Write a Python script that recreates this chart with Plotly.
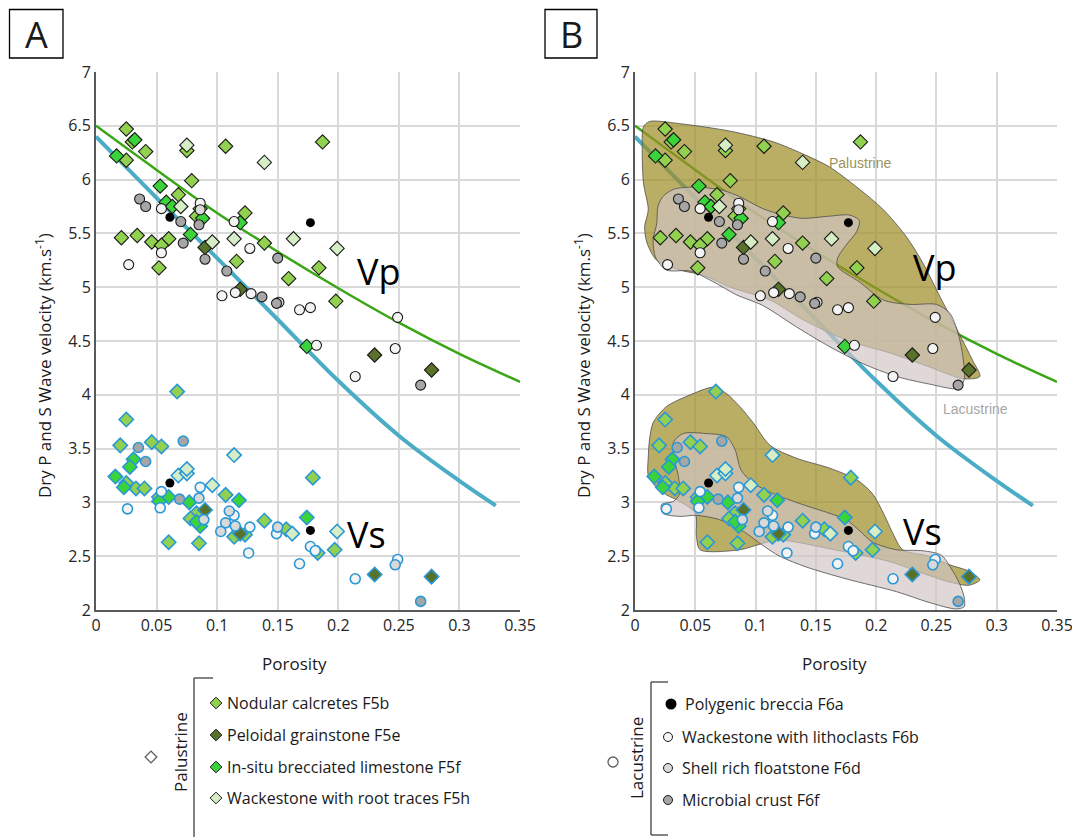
import plotly.graph_objects as go

W, H = 1080, 837
OFF = 8  # browser body margin: shift every pixel position by this amount

# ---------------- axis ticks ----------------
x_ticks = [0, 0.05, 0.1, 0.15, 0.2, 0.25, 0.3, 0.35]
x_ticklabels = ["0", "0.05", "0.1", "0.15", "0.2", "0.25", "0.3", "0.35"]
y_ticks = [2, 2.5, 3, 3.5, 4, 4.5, 5, 5.5, 6, 6.5, 7]
y_ticklabels = ["2", "2.5", "3", "3.5", "4", "4.5", "5", "5.5", "6", "6.5", "7"]

# ---------------- trend lines ----------------
green_phi = [0.0, 0.05, 0.1, 0.15, 0.2, 0.25, 0.3, 0.35]
green_v = [6.50, 6.09, 5.69, 5.33, 4.99, 4.67, 4.38, 4.12]
blue_phi = [0.0, 0.05, 0.1, 0.15, 0.2, 0.25, 0.3, 0.33]
blue_v = [6.40, 5.83, 5.27, 4.70, 4.13, 3.62, 3.20, 2.97]

# ---------------- Vp data ----------------
f5b_vp_phi = [0.025, 0.030, 0.025, 0.041, 0.075, 0.107, 0.079, 0.068, 0.086, 0.083, 0.123, 0.021,
              0.034, 0.046, 0.060, 0.054, 0.139, 0.052, 0.116, 0.187, 0.184, 0.159, 0.198]
f5b_vp_v = [6.47, 6.35, 6.18, 6.26, 6.27, 6.31, 5.99, 5.86, 5.73, 5.66, 5.69, 5.46,
            5.48, 5.42, 5.45, 5.39, 5.41, 5.18, 5.24, 6.35, 5.18, 5.08, 4.87]
f5e_vp_phi = [0.090, 0.119, 0.230, 0.277]
f5e_vp_v = [5.37, 4.98, 4.37, 4.23]
f5f_vp_phi = [0.032, 0.017, 0.053, 0.058, 0.063, 0.088, 0.119, 0.078, 0.174]
f5f_vp_v = [6.37, 6.22, 5.94, 5.79, 5.75, 5.64, 5.60, 5.49, 4.45]
f5h_vp_phi = [0.075, 0.139, 0.070, 0.096, 0.114, 0.163, 0.199]
f5h_vp_v = [6.32, 6.16, 5.75, 5.42, 5.45, 5.45, 5.36]
f6a_vp_phi = [0.061, 0.177]
f6a_vp_v = [5.65, 5.60]
f6b_vp_phi = [0.054, 0.086, 0.114, 0.054, 0.027, 0.127, 0.104, 0.115, 0.128, 0.168, 0.177,
              0.249, 0.182, 0.247, 0.214]
f6b_vp_v = [5.73, 5.78, 5.61, 5.32, 5.21, 5.36, 4.92, 4.95, 4.94, 4.79, 4.81,
            4.72, 4.46, 4.43, 4.17]
f6d_vp_phi = [0.086, 0.151]
f6d_vp_v = [5.72, 4.86]
f6f_vp_phi = [0.036, 0.041, 0.070, 0.085, 0.072, 0.090, 0.108, 0.137, 0.150, 0.149, 0.268]
f6f_vp_v = [5.82, 5.75, 5.61, 5.58, 5.41, 5.26, 5.15, 4.91, 5.27, 4.85, 4.09]

# ---------------- Vs data ----------------
f5b_vs_phi = [0.067, 0.025, 0.020, 0.046, 0.054, 0.025, 0.033, 0.040, 0.052, 0.107, 0.083,
              0.078, 0.114, 0.123, 0.139, 0.157, 0.060, 0.085, 0.179, 0.183, 0.197]
f5b_vs_v = [4.03, 3.77, 3.53, 3.56, 3.52, 3.18, 3.13, 3.13, 3.05, 3.07, 2.90,
            2.85, 2.68, 2.70, 2.83, 2.75, 2.63, 2.62, 3.23, 2.53, 2.56]
f5e_vs_phi = [0.090, 0.119, 0.230, 0.277]
f5e_vs_v = [2.93, 2.71, 2.33, 2.31]
f5f_vs_phi = [0.031, 0.028, 0.016, 0.023, 0.060, 0.052, 0.077, 0.118, 0.086, 0.083, 0.174]
f5f_vs_v = [3.40, 3.33, 3.24, 3.14, 3.05, 3.01, 3.00, 3.02, 2.78, 2.82, 2.86]
f5h_vs_phi = [0.068, 0.075, 0.075, 0.114, 0.096, 0.162, 0.199]
f5h_vs_v = [3.25, 3.27, 3.31, 3.44, 3.16, 2.71, 2.73]
f6a_vs_phi = [0.061, 0.177]
f6a_vs_v = [3.18, 2.74]
f6b_vs_phi = [0.054, 0.053, 0.026, 0.086, 0.114, 0.127, 0.126, 0.149, 0.177, 0.181, 0.168,
              0.214, 0.249]
f6b_vs_v = [3.10, 2.95, 2.94, 3.14, 2.88, 2.77, 2.53, 2.71, 2.59, 2.55, 2.43,
            2.29, 2.47]
f6d_vs_phi = [0.085, 0.089, 0.110, 0.107, 0.115, 0.103, 0.150, 0.247]
f6d_vs_v = [3.04, 2.84, 2.92, 2.81, 2.78, 2.73, 2.77, 2.42]
f6f_vs_phi = [0.035, 0.041, 0.072, 0.069, 0.268]
f6f_vs_v = [3.51, 3.38, 3.57, 3.03, 2.08]

# ---------------- envelopes (panel B) ----------------
pal_vp_phi = [0.007, 0.012, 0.037, 0.079, 0.115, 0.139, 0.161, 0.184, 0.206, 0.225, 0.239, 0.253,
              0.266, 0.280, 0.286, 0.272, 0.244, 0.211, 0.175, 0.139, 0.112, 0.079, 0.057, 0.037,
              0.018, 0.010, 0.008, 0.011, 0.007, 0.006]
pal_vp_v = [6.49, 6.54, 6.52, 6.45, 6.35, 6.24, 6.12, 5.93, 5.72, 5.47, 5.22, 4.91,
            4.63, 4.32, 4.17, 4.15, 4.26, 4.39, 4.51, 4.70, 4.88, 5.00, 5.11, 5.16,
            5.25, 5.41, 5.56, 5.72, 5.97, 6.28]
lac_vp_phi = [0.023, 0.032, 0.051, 0.073, 0.087, 0.106, 0.123, 0.139, 0.161, 0.178, 0.186, 0.184,
              0.175, 0.168, 0.168, 0.186, 0.206, 0.228, 0.250, 0.261, 0.268, 0.272, 0.273, 0.268,
              0.244, 0.217, 0.189, 0.161, 0.134, 0.106, 0.084, 0.065, 0.046, 0.026, 0.017, 0.015,
              0.018, 0.019]
lac_vp_v = [5.84, 5.91, 5.93, 5.90, 5.84, 5.73, 5.67, 5.64, 5.66, 5.67, 5.62, 5.52,
            5.39, 5.27, 5.19, 5.05, 4.88, 4.84, 4.84, 4.76, 4.57, 4.35, 4.14, 4.06,
            4.10, 4.17, 4.29, 4.45, 4.63, 4.83, 4.93, 5.05, 5.15, 5.16, 5.28, 5.44,
            5.59, 5.75]
pal_vs_phi = [0.015, 0.026, 0.046, 0.065, 0.076, 0.087, 0.098, 0.112, 0.134, 0.161, 0.184, 0.197,
              0.206, 0.214, 0.222, 0.244, 0.261, 0.277, 0.286, 0.277, 0.261, 0.239, 0.211, 0.161,
              0.120, 0.106, 0.087, 0.054, 0.051, 0.050, 0.037, 0.026, 0.017, 0.011, 0.011, 0.012]
pal_vs_v = [3.74, 3.89, 4.00, 4.07, 4.01, 3.89, 3.74, 3.53, 3.41, 3.32, 3.21, 3.08,
            2.90, 2.71, 2.56, 2.50, 2.42, 2.36, 2.28, 2.23, 2.26, 2.34, 2.45, 2.57,
            2.65, 2.62, 2.56, 2.56, 2.68, 2.90, 3.01, 3.07, 3.15, 3.25, 3.42, 3.58]
lac_vs_phi = [0.032, 0.040, 0.059, 0.076, 0.083, 0.088, 0.098, 0.115, 0.139, 0.161, 0.175, 0.186,
              0.197, 0.217, 0.239, 0.254, 0.262, 0.269, 0.273, 0.273, 0.266, 0.244, 0.217, 0.175,
              0.142, 0.120, 0.106, 0.090, 0.070, 0.051, 0.037, 0.023, 0.022, 0.032, 0.037, 0.036,
              0.033]
lac_vs_v = [3.56, 3.64, 3.64, 3.61, 3.49, 3.30, 3.18, 3.08, 2.98, 2.90, 2.84, 2.74,
            2.63, 2.56, 2.55, 2.51, 2.39, 2.25, 2.12, 2.03, 2.01, 2.07, 2.17, 2.29,
            2.40, 2.50, 2.60, 2.73, 2.84, 2.88, 2.87, 2.90, 2.98, 3.01, 3.08, 3.24,
            3.39]

# ---------------- facies styles ----------------
facies = [
    ("Nodular calcretes F5b", "diamond", "#92d050", f5b_vp_phi, f5b_vp_v, f5b_vs_phi, f5b_vs_v, 11),
    ("Peloidal grainstone F5e", "diamond", "#58722a", f5e_vp_phi, f5e_vp_v, f5e_vs_phi, f5e_vs_v, 11),
    ("In-situ brecciated limestone F5f", "diamond", "#3ad43a", f5f_vp_phi, f5f_vp_v, f5f_vs_phi, f5f_vs_v, 11),
    ("Wackestone with root traces F5h", "diamond", "#d5eec6", f5h_vp_phi, f5h_vp_v, f5h_vs_phi, f5h_vs_v, 11),
    ("Polygenic breccia F6a", "circle", "#000000", f6a_vp_phi, f6a_vp_v, f6a_vs_phi, f6a_vs_v, 10),
    ("Wackestone with lithoclasts F6b", "circle", "#f4f4f4", f6b_vp_phi, f6b_vp_v, f6b_vs_phi, f6b_vs_v, 10),
    ("Shell rich floatstone F6d", "circle", "#d9d9d9", f6d_vp_phi, f6d_vp_v, f6d_vs_phi, f6d_vs_v, 10),
    ("Microbial crust F6f", "circle", "#a6a6a6", f6f_vp_phi, f6f_vp_v, f6f_vs_phi, f6f_vs_v, 10),
]

VS_EDGE = "#2a98d6"
fig = go.Figure()


def add_lines(xa, ya):
    fig.add_trace(go.Scatter(x=blue_phi, y=blue_v, mode="lines",
                             line=dict(color="#4bacc6", width=4, shape="spline"),
                             xaxis=xa, yaxis=ya, showlegend=False, hoverinfo="skip"))
    fig.add_trace(go.Scatter(x=green_phi, y=green_v, mode="lines",
                             line=dict(color="#3aa617", width=2.5, shape="spline"),
                             xaxis=xa, yaxis=ya, showlegend=False, hoverinfo="skip"))


def add_points(xa, ya):
    for name, sym, col, vpx, vpy, vsx, vsy, sz in facies:
        black = col == "#000000"
        fig.add_trace(go.Scatter(
            x=vsx, y=vsy, mode="markers", xaxis=xa, yaxis=ya, showlegend=False, name=name,
            marker=dict(symbol=sym, size=sz - (1 if black else 0), color=col,
                        line=dict(color=col if black else VS_EDGE, width=0 if black else 1.6))))
    for name, sym, col, vpx, vpy, vsx, vsy, sz in facies:
        black = col == "#000000"
        fig.add_trace(go.Scatter(
            x=vpx, y=vpy, mode="markers", xaxis=xa, yaxis=ya, showlegend=False, name=name,
            marker=dict(symbol=sym, size=sz - (1 if black else 0), color=col,
                        line=dict(color="#1a1a1a", width=0 if black else 1.1))))


# ---- panel A ----
add_lines("x", "y")
add_points("x", "y")

# ---- panel B ----
add_lines("x2", "y2")
OLIVE = "rgba(160,142,40,0.72)"
GREY = "rgba(208,198,196,0.68)"
for px, py, fc in [(pal_vp_phi, pal_vp_v, OLIVE), (pal_vs_phi, pal_vs_v, OLIVE),
                   (lac_vp_phi, lac_vp_v, GREY), (lac_vs_phi, lac_vs_v, GREY)]:
    fig.add_trace(go.Scatter(x=px + px[:1], y=py + py[:1], mode="lines", fill="toself", fillcolor=fc,
                             line=dict(color="#4d4d4d", width=0.8, shape="spline", smoothing=0.8),
                             xaxis="x2", yaxis="y2", showlegend=False, hoverinfo="skip"))
add_points("x2", "y2")

# ---- legend symbols on an overlay pixel axis (pixel coords of the reference) ----
leg_sym_x = [216, 216, 216, 216, 671, 668, 668, 668]
leg_sym_y = [703, 735, 767, 798, 704, 737, 768, 800]
for (name, sym, col, *_), sx, sy in zip(facies, leg_sym_x, leg_sym_y):
    black = col == "#000000"
    fig.add_trace(go.Scatter(x=[sx], y=[sy], mode="markers", xaxis="x3", yaxis="y3", showlegend=False,
                             marker=dict(symbol=sym, size=9 if sym == "diamond" else (11 if black else 9), color=col,
                                         line=dict(color="#1a1a1a", width=0 if black else 1))))
fig.add_trace(go.Scatter(x=[151, 613], y=[757, 762], mode="markers", xaxis="x3", yaxis="y3", showlegend=False,
                         marker=dict(symbol=["diamond-open", "circle-open"], size=[9, 10], color="#1a1a1a",
                                     line=dict(width=1.3))))

FONT = "Open Sans"
ax_common = dict(showgrid=True, gridcolor="#d9d9d9", gridwidth=1.6, zeroline=False, ticks="",
                 tickfont=dict(family=FONT, size=16, color="#262626"), fixedrange=True,
                 automargin=False, showline=True, linecolor="#595959", linewidth=2)
xa = dict(range=[0, 0.35], tickvals=x_ticks, ticktext=x_ticklabels, **ax_common)
ya = dict(range=[2, 7], tickvals=y_ticks, ticktext=y_ticklabels, ticklen=0, **ax_common)


def fx(x):
    return (x - OFF) / W


def fy(y):
    return 1 - (y - OFF) / H


fig.update_layout(
    template="none",
    width=W, height=H, margin=dict(l=0, r=0, t=0, b=0, pad=0, autoexpand=False),
    paper_bgcolor="white", plot_bgcolor="rgba(0,0,0,0)",
    font=dict(family=FONT, color="#1a1a1a"),
    showlegend=False,
    xaxis=dict(domain=[fx(96), fx(520)], anchor="y", **xa),
    yaxis=dict(domain=[fy(610), fy(72)], anchor="x", **ya),
    xaxis2=dict(domain=[fx(635), fx(1057)], anchor="y2", **xa),
    yaxis2=dict(domain=[fy(610), fy(72)], anchor="x2", **ya),
    xaxis3=dict(domain=[0, 1], range=[OFF, W + OFF], visible=False, anchor="y3", fixedrange=True, automargin=False),
    yaxis3=dict(domain=[0, 1], range=[H + OFF, OFF], visible=False, anchor="x3", fixedrange=True, automargin=False),
)

ann = []


def add_text(text, x, y, size, color="#1a1a1a", angle=0, xanchor="center", family=FONT):
    ann.append(dict(text=text, x=fx(x), y=fy(y), xref="paper", yref="paper", showarrow=False,
                    xanchor=xanchor, yanchor="middle", textangle=angle,
                    font=dict(size=size, color=color, family=family)))


# panel letters
add_text("A", 36, 34, 36)
add_text("B", 571, 34, 36)
# axis titles
ytitle = "Dry P and S Wave velocity (km.s<sup>-1</sup>)"
add_text(ytitle, 44, 366, 17, angle=-90)
add_text(ytitle, 583, 366, 17, angle=-90)
add_text("Porosity", 294, 663, 17)
add_text("Porosity", 834, 663, 17)
# Vp / Vs labels (data coordinates)
for xr, yr, t, xv, yv in [("x", "y", "Vp", 0.234, 5.15), ("x", "y", "Vs", 0.2235, 2.70),
                          ("x2", "y2", "Vp", 0.249, 5.18), ("x2", "y2", "Vs", 0.2385, 2.73)]:
    ann.append(dict(text=t, x=xv, y=yv, xref=xr, yref=yr, showarrow=False,
                    font=dict(size=36, color="#000000", family=FONT)))
ann.append(dict(text="Palustrine", x=0.187, y=6.15, xref="x2", yref="y2", showarrow=False,
                font=dict(size=14, color="#9c9258", family="Liberation Sans")))
ann.append(dict(text="Lacustrine", x=0.282, y=3.87, xref="x2", yref="y2", showarrow=False,
                font=dict(size=14, color="#a6a6a6", family="Liberation Sans")))
# legends
add_text("Palustrine", 180, 752, 17, angle=-90)
add_text("Lacustrine", 636, 758, 17, angle=-90)
leg_text_x = [225, 225, 225, 225, 683, 680, 680, 680]
for (name, *_), tx, ty in zip(facies, leg_text_x, leg_sym_y):
    add_text(name, tx, ty, 16, xanchor="left")
fig.update_layout(annotations=ann)

# shapes: panel boxes + legend brackets
shapes = []


def rect(x0, y0, x1, y1):
    shapes.append(dict(type="rect", xref="paper", yref="paper", x0=fx(x0), y0=fy(y0), x1=fx(x1), y1=fy(y1),
                       line=dict(color="#000000", width=1.3)))


def line(x0, y0, x1, y1, col="#404040", w=1.3):
    shapes.append(dict(type="line", xref="paper", yref="paper", x0=fx(x0), y0=fy(y0), x1=fx(x1), y1=fy(y1),
                       line=dict(color=col, width=w)))


rect(9.5, 9.5, 63, 58)
rect(545, 9.5, 597, 58)
line(194, 678, 194, 845)
line(194, 678, 213, 678)
line(651, 682, 651, 835)
line(651, 682, 668, 682)
line(651, 835, 668, 835)
fig.update_layout(shapes=shapes)

fig.write_html("out.html")
